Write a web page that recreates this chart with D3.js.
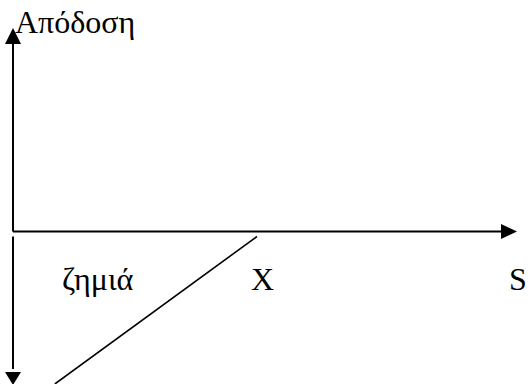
<!DOCTYPE html>
<html>
<head>
<meta charset="utf-8">
<script src="https://cdn.jsdelivr.net/npm/d3@7"></script>
<style>
  html, body { margin: 0; padding: 0; background: #fff; }
  svg { display: block; }
  text { font-family: "Liberation Serif", "Times New Roman", serif; font-size: 32px; fill: #000; }
</style>
</head>
<body>
<svg id="chart" width="528" height="384"></svg>
<script>
// Underlying price axis extent and the strike point
const priceDomain = [0, 100];
const payoffDomain = [-30, 40];
const strike = 48.4;

// Payoff segment of the position (price, payoff)
const lossPrices = [strike, 8.3];
const lossValues = [-1, -30];

// Axis and region labels
const yAxisLabel = "Απόδοση";
const lossLabel = "ζημιά";
const strikeLabel = "X";
const priceLabel = "S";

const svg = d3.select("#chart");
const W = 528, H = 384;

const x = d3.scaleLinear().domain(priceDomain).range([13, 517]);
const y = d3.scaleLinear().domain(payoffDomain).range([384, 28]);

const axisW = 2;
const head = 16;

// Horizontal price axis with arrowhead
svg.append("line")
  .attr("x1", x(0)).attr("y1", y(0))
  .attr("x2", x(100) - head + 1).attr("y2", y(0))
  .attr("stroke", "#000").attr("stroke-width", axisW);
svg.append("path")
  .attr("d", `M${x(100)},${y(0)} L${x(100) - head},${y(0) - 7.5} L${x(100) - head},${y(0) + 7.5} Z`)
  .attr("fill", "#000");

// Upward payoff axis with arrowhead
svg.append("line")
  .attr("x1", x(0)).attr("y1", y(0))
  .attr("x2", x(0)).attr("y2", y(40) + head - 1)
  .attr("stroke", "#000").attr("stroke-width", axisW);
svg.append("path")
  .attr("d", `M${x(0)},${y(40)} L${x(0) - 8},${y(40) + head} L${x(0) + 8},${y(40) + head} Z`)
  .attr("fill", "#000");

// Downward payoff axis (separate stroke below the price axis)
svg.append("line")
  .attr("x1", x(0)).attr("y1", y(0) + 5)
  .attr("x2", x(0)).attr("y2", y(-30) - head + 1)
  .attr("stroke", "#000").attr("stroke-width", axisW);
svg.append("path")
  .attr("d", `M${x(0)},${y(-30) + 1} L${x(0) - 8},${y(-30) - 12} L${x(0) + 8},${y(-30) - 12} Z`)
  .attr("fill", "#000");

// Payoff line
const pts = lossPrices.map((p, i) => [p, lossValues[i]]);
svg.append("path")
  .datum(pts)
  .attr("d", d3.line().x(d => x(d[0])).y(d => y(d[1])))
  .attr("fill", "none")
  .attr("stroke", "#000")
  .attr("stroke-width", 1.6);

// Labels
svg.append("text").attr("x", 15).attr("y", 33).text(yAxisLabel);
svg.append("text").attr("x", 62).attr("y", 290).text(lossLabel);
svg.append("text").attr("x", 251).attr("y", 290).text(strikeLabel);
svg.append("text").attr("x", 509).attr("y", 290).text(priceLabel);
</script>
</body>
</html>
